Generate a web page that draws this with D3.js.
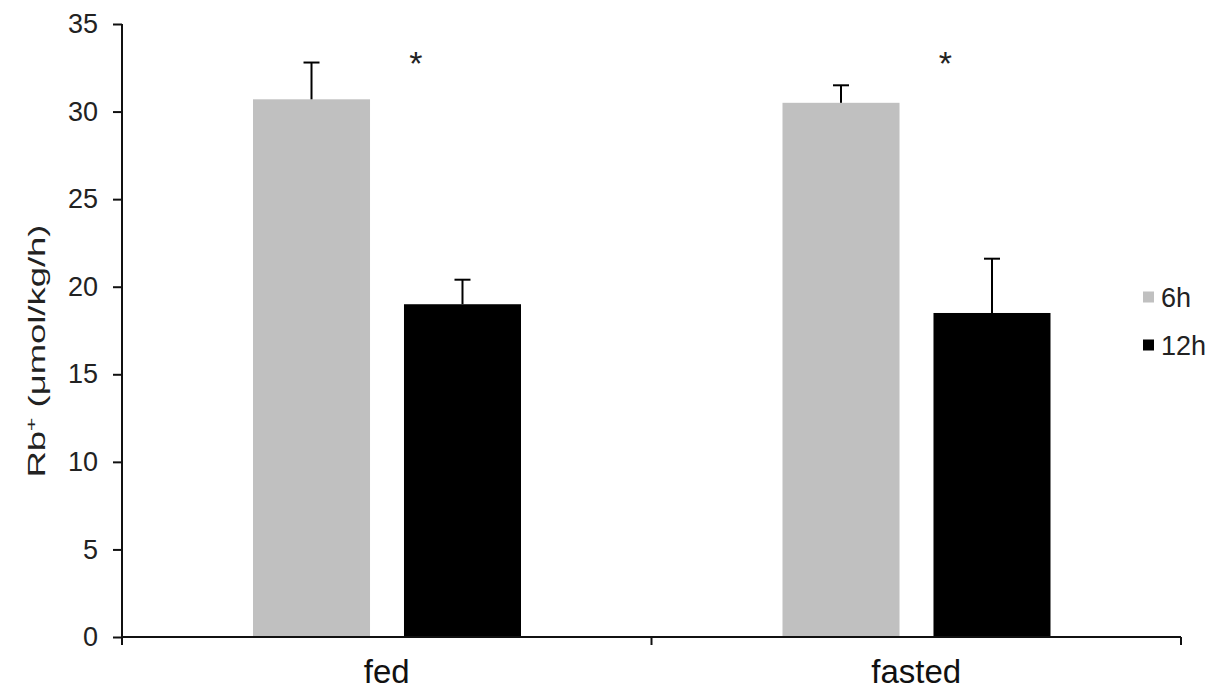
<!DOCTYPE html>
<html>
<head>
<meta charset="utf-8">
<script src="https://cdn.jsdelivr.net/npm/d3@7"></script>
<style>
  html, body { margin: 0; padding: 0; background: #fff; }
  svg { display: block; font-family: "Liberation Sans", Arial, sans-serif; }
</style>
</head>
<body>
<svg id="chart" width="1230" height="696"></svg>
<script>
// Rb+ uptake by feeding state and time point
const categories = ["fed", "fasted"];
const series = ["6h", "12h"];
const values6h = [30.7, 30.5];
const values12h = [19.0, 18.5];
const err6h = [2.1, 1.0];
const err12h = [1.4, 3.1];
const markers = ["*", "*"];
const yTicks = [0, 5, 10, 15, 20, 25, 30, 35];
const colors = { "6h": "#c0c0c0", "12h": "#000000" };

const valuesBySeries = { "6h": values6h, "12h": values12h };
const errBySeries = { "6h": err6h, "12h": err12h };

const svg = d3.select("#chart");
const plotLeft = 122, plotRight = 1181, plotTop = 24, plotBottom = 637;

const y = d3.scaleLinear().domain([0, 35]).range([plotBottom, plotTop]);
const x0 = d3.scaleBand().domain(categories).range([plotLeft, plotRight]);
const x1 = d3.scaleBand().domain(series)
  .range([131, 399]).paddingInner(0.225);

const rows = [];
categories.forEach((c, i) => {
  series.forEach(s => {
    rows.push({ cat: c, ser: s, v: valuesBySeries[s][i], e: errBySeries[s][i] });
  });
});

// bars
svg.append("g").selectAll("rect").data(rows).join("rect")
  .attr("x", d => x0(d.cat) + x1(d.ser))
  .attr("y", d => y(d.v))
  .attr("width", x1.bandwidth())
  .attr("height", d => y(0) - y(d.v))
  .attr("fill", d => colors[d.ser]);

// upper error bars
const eg = svg.append("g").attr("stroke", "#000").attr("stroke-width", 2);
rows.forEach(d => {
  const cx = x0(d.cat) + x1(d.ser) + x1.bandwidth() / 2;
  eg.append("line").attr("x1", cx).attr("x2", cx)
    .attr("y1", y(d.v)).attr("y2", y(d.v + d.e));
  eg.append("line").attr("x1", cx - 8).attr("x2", cx + 8)
    .attr("y1", y(d.v + d.e)).attr("y2", y(d.v + d.e));
});

// significance markers
svg.append("g").selectAll("text").data(categories).join("text")
  .attr("x", c => x0(c) + x0.bandwidth() * 0.555)
  .attr("y", 75)
  .attr("text-anchor", "middle")
  .attr("font-size", 34)
  .attr("fill", "#222")
  .text((c, i) => markers[i]);

// y axis
const yAxis = svg.append("g")
  .attr("transform", `translate(${plotLeft},0)`)
  .call(d3.axisLeft(y).tickValues(yTicks).tickSize(9).tickPadding(15));
yAxis.select(".domain").attr("d", `M0,${plotTop}V${plotBottom + 8}`)
  .attr("stroke", "#111").attr("stroke-width", 2);
yAxis.selectAll(".tick line").attr("stroke", "#111").attr("stroke-width", 2);
yAxis.selectAll(".tick text").attr("font-size", 27).attr("fill", "#222")
  .attr("font-family", "Liberation Sans, Arial, sans-serif");

// x axis
const xAxis = svg.append("g")
  .attr("transform", `translate(0,${plotBottom})`)
  .call(d3.axisBottom(x0).tickSize(0).tickPadding(23));
xAxis.select(".domain").attr("d", `M${plotLeft},0H${plotRight}`)
  .attr("stroke", "#111").attr("stroke-width", 2);
xAxis.selectAll(".tick text").attr("font-size", 33).attr("fill", "#111")
  .attr("font-family", "Liberation Sans, Arial, sans-serif");
// category boundary ticks
const bounds = categories.map(c => x0(c) + x0.bandwidth());
xAxis.append("g").selectAll("line").data(bounds).join("line")
  .attr("x1", d => d).attr("x2", d => d)
  .attr("y1", 0).attr("y2", 8)
  .attr("stroke", "#111").attr("stroke-width", 2);

// y axis title
const title = svg.append("text")
  .attr("transform", "translate(45,351) rotate(-90)")
  .attr("text-anchor", "middle")
  .attr("font-size", 24)
  .attr("fill", "#222")
  .attr("textLength", 253)
  .attr("lengthAdjust", "spacingAndGlyphs");
title.append("tspan").text("Rb");
title.append("tspan").attr("font-size", 15).attr("dy", -9).text("+");
title.append("tspan").attr("dy", 9).text(" (μmol/kg/h)");

// legend
const legend = svg.append("g");
const legendY = [297, 345];
series.forEach((s, i) => {
  legend.append("rect")
    .attr("x", 1143).attr("y", legendY[i] - 5.5)
    .attr("width", 11).attr("height", 11)
    .attr("fill", colors[s]);
  legend.append("text")
    .attr("x", 1161).attr("y", legendY[i] + 10)
    .attr("font-size", 27).attr("fill", "#222")
    .text(s);
});
</script>
</body>
</html>
